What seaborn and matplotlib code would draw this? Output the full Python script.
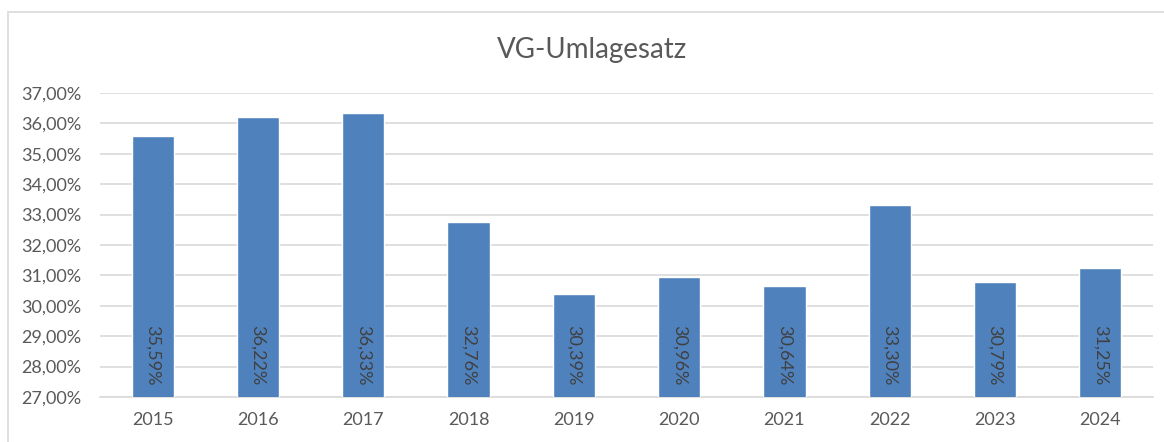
import matplotlib
matplotlib.use('Agg')
import matplotlib.pyplot as plt
import seaborn as sns
import pandas as pd
from matplotlib.patches import Rectangle

years = ['2015', '2016', '2017', '2018', '2019', '2020', '2021', '2022', '2023', '2024']
rates = [35.59, 36.22, 36.33, 32.76, 30.39, 30.96, 30.64, 33.30, 30.79, 31.25]
yticks = [27, 28, 29, 30, 31, 32, 33, 34, 35, 36, 37]

df = pd.DataFrame({'Jahr': years, 'Satz': rates})

sns.set_theme(style='white')
plt.rcParams['font.family'] = ['Lato', 'DejaVu Sans']

fig = plt.figure(figsize=(11.64, 4.42), dpi=100)
fig.patch.set_facecolor('white')
# chart border like excel
fig.patches.append(Rectangle((8 / 1164, -0.1), 1.2, 1 - 12 / 442 + 0.1, transform=fig.transFigure,
                             fill=False, edgecolor='#D9D9D9', linewidth=1.2, zorder=0))

ax = fig.add_axes([100 / 1164, 1 - 397 / 442, 1053 / 1164, 304 / 442])
sns.barplot(data=df, x='Jahr', y='Satz', color='#4F81BD', saturation=1, width=0.4, ax=ax, zorder=3)

ax.set_ylim(27, 37)
ax.set_xlim(-0.5, len(years) - 0.5)
ax.set_yticks(yticks)
ax.set_yticklabels([f'{v:.2f}%'.replace('.', ',') for v in yticks])
ax.grid(axis='y', color='#D9D9D9', linewidth=1.2, zorder=0)
ax.set_axisbelow(True)
for s in ['top', 'right', 'left']:
    ax.spines[s].set_visible(False)
ax.spines['bottom'].set_color('#D9D9D9')
ax.spines['bottom'].set_linewidth(1.2)
ax.tick_params(axis='both', length=0, labelsize=13, labelcolor='#595959')
ax.tick_params(axis='y', pad=13.5)
ax.tick_params(axis='x', pad=11)
ax.set_xlabel('')
ax.set_ylabel('')

for p, v in zip(ax.patches, rates):
    ax.annotate(f'{v:.2f}%'.replace('.', ','), (p.get_x() + p.get_width() / 2, 27),
                xytext=(0, 8.5), textcoords='offset points', rotation=270,
                ha='center', va='bottom', fontsize=13, color='#404040', zorder=4)

fig.text(592 / 1164, 1 - 50 / 442, 'VG-Umlagesatz', ha='center', va='center',
         fontsize=20, color='#595959')

fig.savefig('out.png', dpi=100)
